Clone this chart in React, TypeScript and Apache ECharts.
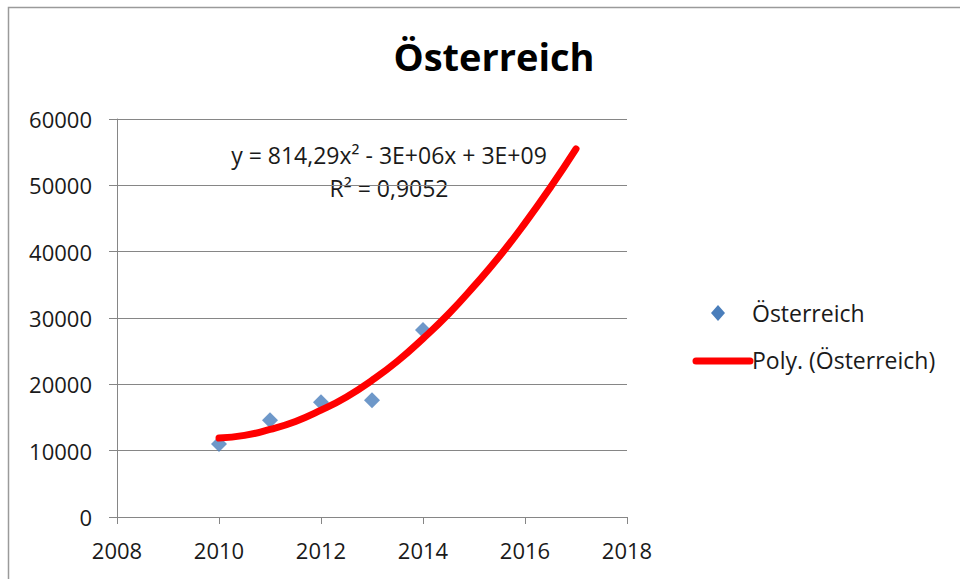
import React, { useEffect, useRef } from "react";
import * as echarts from "echarts";

const years = [2010, 2011, 2012, 2013, 2014];
const values = [11000, 14600, 17300, 17600, 28200];

const trendYears = [2010, 2010.5, 2011, 2011.5, 2012, 2012.5, 2013, 2013.5, 2014, 2014.5, 2015, 2015.5, 2016, 2016.5, 2017];
const trendValues = [11900, 12300, 13200, 14400, 16100, 18100, 20600, 23500, 26900, 30600, 34800, 39300, 44300, 49700, 55500];

const xTicks = [2008, 2010, 2012, 2014, 2016, 2018];
const yTicks = [0, 10000, 20000, 30000, 40000, 50000, 60000];

const title = "Österreich";
const seriesName = "Österreich";
const trendName = "Poly. (Österreich)";
const equation = "y = 814,29x² - 3E+06x + 3E+09";
const rSquared = "R² = 0,9052";

const FONT = "'Open Sans', 'Noto Sans', sans-serif";

export default function App() {
  const ref = useRef<HTMLDivElement>(null);

  useEffect(() => {
    document.body.style.margin = "0";
    const chart = echarts.init(ref.current!, null, { renderer: "svg" });
    const option: any = {
      animation: false,
      backgroundColor: "#ffffff",
      title: {
        text: title,
        left: 489,
        top: 32,
        textAlign: "center",
        textStyle: { fontFamily: FONT, fontSize: 38, fontWeight: "bold", color: "#000" },
      },
      grid: { left: 117, right: 333, top: 119, bottom: 62, containLabel: false },
      xAxis: {
        type: "value",
        min: xTicks[0],
        max: xTicks[xTicks.length - 1],
        interval: 2,
        axisLine: { show: true, lineStyle: { color: "#868686", width: 1 } },
        axisTick: { show: true, length: 7, inside: false, lineStyle: { color: "#868686" } },
        splitLine: { show: false },
        axisLabel: { fontFamily: FONT, fontSize: 22, color: "#1a1a1a", margin: 22, formatter: (v: number) => String(v) },
      },
      yAxis: {
        type: "value",
        min: yTicks[0],
        max: yTicks[yTicks.length - 1],
        interval: 10000,
        axisLine: { show: true, lineStyle: { color: "#868686", width: 1 } },
        axisTick: { show: true, length: 8, inside: false, lineStyle: { color: "#868686" } },
        splitLine: { show: true, lineStyle: { color: "#868686", width: 1 } },
        axisLabel: { fontFamily: FONT, fontSize: 22, color: "#1a1a1a", margin: 25, formatter: (v: number) => String(v) },
      },
      series: [
        {
          name: seriesName,
          type: "scatter",
          symbol: "diamond",
          symbolSize: 16,
          itemStyle: { color: "#4A7EBB" },
          data: years.map((y, i) => [y, values[i]]),
          z: 2,
        },
        {
          name: trendName,
          type: "line",
          smooth: true,
          symbol: "none",
          lineStyle: { color: "#FF0000", width: 7, cap: "round" },
          data: trendYears.map((y, i) => [y, trendValues[i]]),
          z: 3,
        },
      ],
      graphic: [
        { type: "rect", shape: { x: 8.5, y: 7.5, width: 960, height: 580 }, style: { fill: "none", stroke: "#9a9a9a", lineWidth: 1.5 }, silent: true },
        { type: "text", x: 389, y: 155, style: { text: equation, fontFamily: FONT, fontSize: 23, fill: "#1a1a1a", textAlign: "center", textVerticalAlign: "middle" } },
        { type: "text", x: 389, y: 188, style: { text: rSquared, fontFamily: FONT, fontSize: 23, fill: "#1a1a1a", textAlign: "center", textVerticalAlign: "middle" } },
        { type: "polygon", shape: { points: [[718, 305], [725, 313], [718, 321], [711, 313]] }, style: { fill: "#4A7EBB" } },
        { type: "text", x: 752, y: 313, style: { text: seriesName, fontFamily: FONT, fontSize: 23, fill: "#1a1a1a", textVerticalAlign: "middle" } },
        { type: "line", shape: { x1: 696, y1: 361, x2: 750, y2: 361 }, style: { stroke: "#FF0000", lineWidth: 7, lineCap: "round" } },
        { type: "text", x: 752, y: 360, style: { text: trendName, fontFamily: FONT, fontSize: 23, fill: "#1a1a1a", textVerticalAlign: "middle" } },
      ],
    };
    chart.setOption(option);
    return () => chart.dispose();
  }, []);

  return <div ref={ref} style={{ width: 960, height: 579 }} />;
}
